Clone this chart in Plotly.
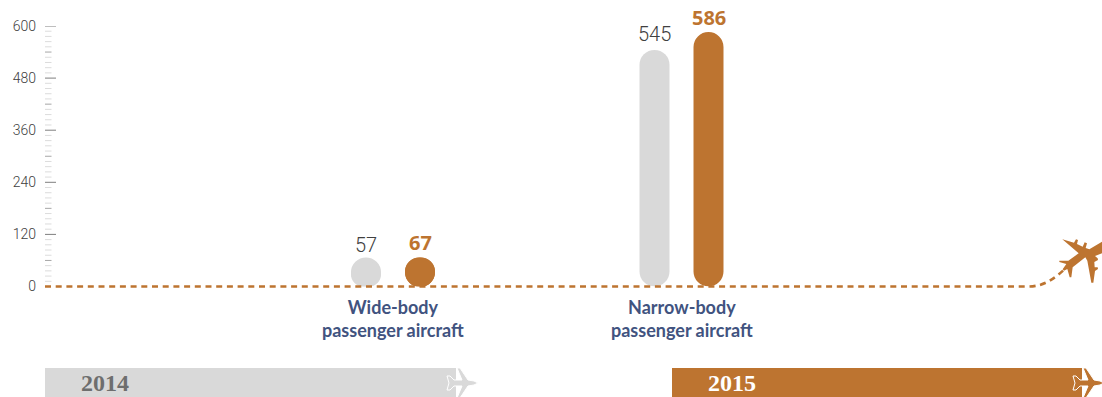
import plotly.graph_objects as go

# Chart data
categories = ["Wide-body<br>passenger aircraft", "Narrow-body<br>passenger aircraft"]
values_2014 = [57, 545]
values_2015 = [67, 586]
years = ["2014", "2015"]
y_ticks = [0, 120, 240, 360, 480, 600]

W, H = 1102, 397
BRONZE = "#bd7430"
GREY = "#d9d9d9"
NAVY = "#41537f"

group_centres = [393, 681.5]
pair_offset = 27
bar_width = 30
px_per_unit = (286.5 - 26) / 600


def px(x, y):
    """Pixel position to paper coordinates."""
    return x / W, 1 - y / H


def paper_path(points):
    """Closed polygon path from pixel points."""
    out = []
    for i, (x, y) in enumerate(points):
        a, b = px(x, y)
        out.append(f"{'M' if i == 0 else 'L'} {a:.5f} {b:.5f}")
    return " ".join(out) + " Z"


fig = go.Figure()
shapes = []


def pill(xs, vals, colour):
    # An explicit base makes plotly round both ends of the bar
    fig.add_bar(
        x=xs, y=vals, base=[0] * len(vals), width=bar_width,
        marker=dict(color=colour, cornerradius=15, line_width=0),
    )
    # Values too small for a full capsule still sit on a round foot
    for x, v in zip(xs, vals):
        if v * px_per_unit < bar_width:
            shapes.append(dict(
                type="circle", layer="below", xref="x", yref="y",
                xsizemode="pixel", ysizemode="pixel", xanchor=x, yanchor=0,
                x0=-bar_width / 2, x1=bar_width / 2, y0=-0.5, y1=bar_width - 1,
                fillcolor=colour, line_width=0,
            ))


pill([c - pair_offset for c in group_centres], values_2014, GREY)
pill([c + pair_offset for c in group_centres], values_2015, BRONZE)

# Scale ruler: long ticks on labelled values, shorter ones in between
for v in range(12, 600, 12):
    if v % 120 == 0:
        continue
    colour = "#a6a6a6" if v % 60 == 0 else "#dcdcdc"
    shapes.append(dict(type="line", xref="x", yref="y", x0=45, x1=51.5, y0=v, y1=v, line=dict(color=colour, width=1)))
for v in y_ticks[1:]:
    shapes.append(dict(type="line", xref="x", yref="y", x0=45, x1=56, y0=v, y1=v, line=dict(color="#7f7f7f", width=1)))

# Dashed flight path along the zero line, lifting towards the plane
start = px(45, 286.5)
bend = px(1028, 286.5)
c1 = px(1045, 286.5)
c2 = px(1055, 278)
end = px(1066, 268)
shapes.append(dict(
    type="path", xref="paper", yref="paper",
    path=f"M {start[0]} {start[1]} L {bend[0]} {bend[1]} C {c1[0]} {c1[1]} {c2[0]} {c2[1]} {end[0]} {end[1]}",
    line=dict(color=BRONZE, width=2.6, dash="6px,4.7px"),
))

# Large plane at the end of the path
plane = [
    (187, 58), (222, 68), (228, 58), (234, 60), (231, 72), (248, 80), (254, 67), (261, 70), (257, 84), (268, 88),
    (306, 65), (306, 100), (285, 108), (293, 115), (294, 120), (283, 126), (284, 142), (293, 142), (294, 147),
    (285, 153), (280, 188), (274, 188), (262, 122), (256, 112), (218, 142), (214, 172), (209, 172), (202, 147),
    (192, 152), (188, 148), (199, 132), (178, 126), (178, 122), (205, 122), (236, 100),
]
shapes.append(dict(
    type="path", xref="paper", yref="paper",
    path=paper_path([(1000 + x / 3, 220 + y / 3) for x, y in plane]),
    fillcolor=BRONZE, line=dict(width=0),
))

# Timeline bands with a small plane at each tip
small_plane = [
    (0, -7), (3, -7), (7, -3), (15, -3), (10, -15), (13, -15), (21, -3), (27, -2), (31, 0),
    (27, 2), (21, 3), (13, 15), (10, 15), (15, 3), (7, 3), (3, 7), (0, 7), (2, 0),
]
band_spans = [(45, 456, GREY), (672, 1082, BRONZE)]
tail_x = [447, 1073]
for (x0, x1, colour), tx in zip(band_spans, tail_x):
    a0, b0 = px(x0, 368)
    a1, b1 = px(x1, 397)
    shapes.append(dict(type="rect", xref="paper", yref="paper", x0=a0, x1=a1, y0=b1, y1=b0, fillcolor=colour, line_width=0))
    shapes.append(dict(
        type="path", xref="paper", yref="paper",
        path=paper_path([(tx + x, 383 + y) for x, y in small_plane]),
        fillcolor=colour, line=dict(color="white", width=1),
    ))

annotations = []

# Value labels above each capsule
for c, v14, v15 in zip(group_centres, values_2014, values_2015):
    annotations.append(dict(
        x=c - pair_offset, y=v14, xref="x", yref="y", text=str(v14), showarrow=False, yanchor="bottom",
        yshift=3 if v14 * px_per_unit < bar_width else 2,
        font=dict(family="Roboto", size=20, color="#404040", weight=300),
    ))
    annotations.append(dict(
        x=c + pair_offset, y=v15, xref="x", yref="y", text=str(v15), showarrow=False, yanchor="bottom", yshift=-1,
        font=dict(family="Open Sans", size=20, color=BRONZE, weight=700),
    ))

# Category labels below the zero line
for c, label in zip(group_centres, categories):
    annotations.append(dict(
        x=c, y=px(0, 294)[1], xref="x", yref="paper", text=label, showarrow=False, yanchor="top",
        align="center", font=dict(family="Lato", size=18, color=NAVY, weight=700),
    ))

# Year labels inside the bands
for year, x, colour in zip(years, [105, 732], ["#6e6e6e", "white"]):
    annotations.append(dict(
        x=x, y=px(0, 383.4)[1], xref="x", yref="paper", text=year, showarrow=False, xanchor="center", yanchor="middle",
        font=dict(family="Liberation Serif", size=24, color=colour, weight=700),
    ))

fig.update_layout(
    width=W, height=H,
    margin=dict(l=0, r=0, t=0, b=0, autoexpand=False),
    paper_bgcolor="white", plot_bgcolor="rgba(0,0,0,0)",
    barmode="overlay", showlegend=False,
    shapes=shapes, annotations=annotations,
    xaxis=dict(range=[0, W], visible=False, fixedrange=True, domain=[0, 1]),
    yaxis=dict(
        range=[0, 600], domain=[1 - 286.5 / H, 1 - 26 / H],
        anchor="free", position=45 / W, side="left",
        tickvals=y_ticks, ticks="", ticklabelstandoff=9,
        showgrid=False, zeroline=False, showline=False, fixedrange=True,
        tickfont=dict(family="Roboto", size=14, color="#404040", weight=300),
    ),
)

fig.write_html("out.html", config=dict(displayModeBar=False))
